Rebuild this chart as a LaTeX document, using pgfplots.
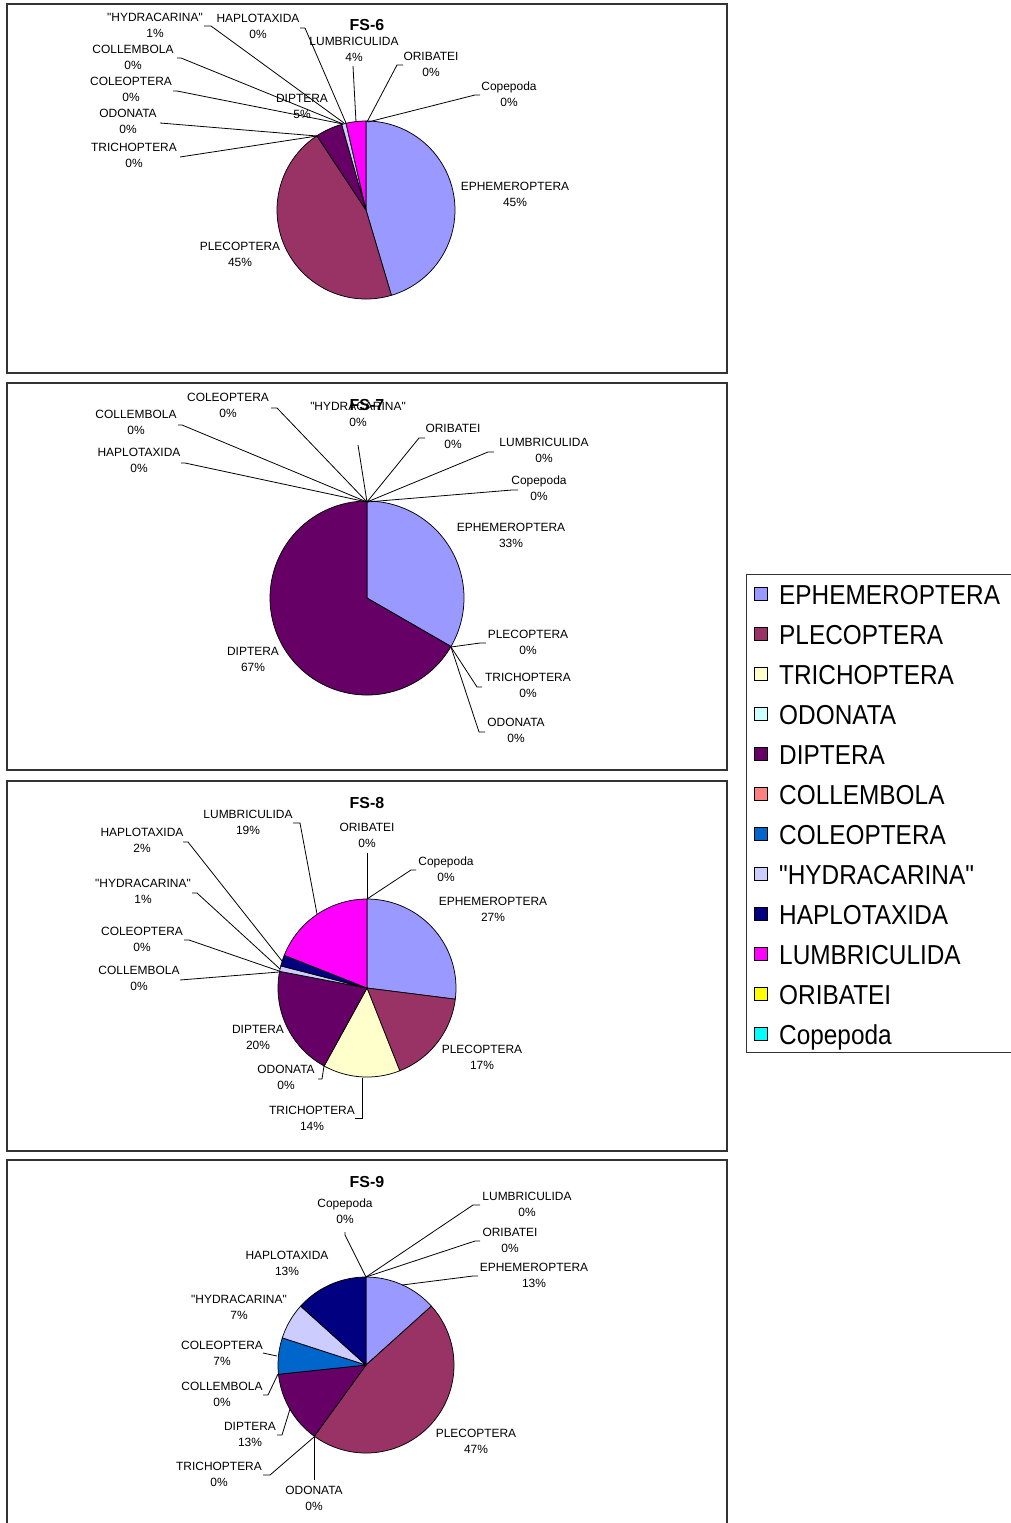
\documentclass[border=0pt]{standalone}
\usepackage{fontspec}
\setmainfont{Liberation Sans}[Ligatures=TeXOff]
\usepackage{pgfplots}
\pgfplotsset{compat=1.18}
\definecolor{ephem}{HTML}{9999FF}
\definecolor{pleco}{HTML}{993366}
\definecolor{trich}{HTML}{FFFFCC}
\definecolor{odon}{HTML}{CCFFFF}
\definecolor{dipt}{HTML}{660066}
\definecolor{coll}{HTML}{FF8080}
\definecolor{coleo}{HTML}{0066CC}
\definecolor{hydr}{HTML}{CCCCFF}
\definecolor{hapl}{HTML}{000080}
\definecolor{lumb}{HTML}{FF00FF}
\definecolor{orib}{HTML}{FFFF00}
\definecolor{cope}{HTML}{00FFFF}
\tikzset{lbl/.style={font=\fontsize{12}{14}\selectfont, inner sep=0pt, anchor=base},
  ttl/.style={font=\fontsize{16}{18}\selectfont\bfseries, inner sep=0pt, anchor=base},
  lead/.style={black, line width=0.8pt},
  lgd/.style={font=\fontsize{27.5}{29}\selectfont, inner sep=0pt, anchor=base west}}
% pie: #1 cx, #2 cy, #3 r, #4 list value/colour (clockwise from 12 o'clock)
\newcommand{\pie}[4]{%
  \gdef\cumul{0}%
  \foreach \v/\c in {#4} {%
    \ifdim\v pt>0pt
      \pgfmathsetmacro\sa{\cumul*3.6}%
      \pgfmathsetmacro\ea{(\cumul+\v)*3.6}%
      \pgfmathtruncatemacro\ns{max(4,\v*1.5+3)}%
      \edef\temp{\noexpand\addplot[fill=\c, draw=black, line width=0.75pt, line join=round, domain=\sa:\ea, samples=\ns, forget plot] ({#1+#3*sin(x)},{#2-#3*cos(x)}) -- (axis cs:#1,#2) -- cycle;}%
      \temp
      \pgfmathsetmacro\newcum{\cumul+\v}%
      \xdef\cumul{\newcum}%
    \fi
  }%
}
\newcommand{\lab}[4]{\node[lbl] at (#1,#2+4.3) {#3}; \node[lbl] at (#1,#2+20.3) {#4};}
\newcommand{\ttl}[3]{\node[ttl] at (#1,#2+5.8) {#3};}
\begin{document}
\begin{tikzpicture}[x=1bp,y=-1bp]
\path[use as bounding box] (0,0) rectangle (1010,1523);
\begin{axis}[at={(0,0)}, anchor=north west, width=1010bp, height=1523bp, scale only axis,
  xmin=0, xmax=1010, ymin=0, ymax=1523, y dir=reverse, axis lines=none, clip=false]
% FS-6
\pie{366}{210}{89}{45.4/ephem, 45.3/pleco, 0/trich, 0/odon, 4.9/dipt, 0/coll, 0/coleo, 0.8/hydr, 0/hapl, 3.6/lumb, 0/orib, 0/cope}
% FS-7
\pie{367}{598}{97}{33.33/ephem, 0/pleco, 0/trich, 0/odon, 66.67/dipt, 0/coll, 0/coleo, 0/hydr, 0/hapl, 0/lumb, 0/orib, 0/cope}
% FS-8
\pie{367}{988}{89}{27/ephem, 17/pleco, 14/trich, 0/odon, 20/dipt, 0/coll, 0/coleo, 1/hydr, 2/hapl, 19/lumb, 0/orib, 0/cope}
% FS-9
\pie{366}{1365}{88}{13.33/ephem, 46.67/pleco, 0/trich, 0/odon, 13.33/dipt, 0/coll, 6.67/coleo, 6.67/hydr, 13.33/hapl, 0/lumb, 0/orib, 0/cope}
\end{axis}
% chart frames
\draw[line width=1.2pt, black!80] (7,4) rectangle (727,373);
\draw[line width=1.2pt, black!80] (7,383) rectangle (727,770);
\draw[line width=1.2pt, black!80] (7,781) rectangle (727,1151);
\draw[line width=1.2pt, black!80] (7,1160) rectangle (727,1540);
% ---- FS-6 labels
\ttl{367}{25}{FS-6}
\lab{155}{17}{"HYDRACARINA"}{1\%}
\lab{258}{18}{HAPLOTAXIDA}{0\%}
\lab{354}{41}{LUMBRICULIDA}{4\%}
\lab{431}{56}{ORIBATEI}{0\%}
\lab{509}{86}{Copepoda}{0\%}
\lab{133}{49}{COLLEMBOLA}{0\%}
\lab{131}{81}{COLEOPTERA}{0\%}
\lab{302}{98}{DIPTERA}{5\%}
\lab{128}{113}{ODONATA}{0\%}
\lab{134}{147}{TRICHOPTERA}{0\%}
\lab{515}{186}{EPHEMEROPTERA}{45\%}
\lab{240}{246}{PLECOPTERA}{45\%}
\draw[lead] (204,26)--(211,26)--(344,123);
\draw[lead] (300,28)--(305,28)--(346,123);
\draw[lead] (353,66)--(356,122);
\draw[lead] (403,65)--(397,65)--(367,122);
\draw[lead] (480,95)--(475,95)--(368,122);
\draw[lead] (177,58)--(181,58)--(343,124);
\draw[lead] (173,91)--(177,91)--(343,124);
\draw[lead] (160,123)--(317,136);
\draw[lead] (180,157)--(317,136);
% ---- FS-7 labels
\lab{228}{397}{COLEOPTERA}{0\%}
\lab{136}{414}{COLLEMBOLA}{0\%}
\lab{139}{452}{HAPLOTAXIDA}{0\%}
\lab{358}{406}{"HYDRACARINA"}{0\%}
\ttl{367}{405}{FS-7}
\lab{453}{428}{ORIBATEI}{0\%}
\lab{544}{442}{LUMBRICULIDA}{0\%}
\lab{539}{480}{Copepoda}{0\%}
\lab{511}{527}{EPHEMEROPTERA}{33\%}
\lab{253}{651}{DIPTERA}{67\%}
\lab{528}{634}{PLECOPTERA}{0\%}
\lab{528}{677}{TRICHOPTERA}{0\%}
\lab{516}{722}{ODONATA}{0\%}
\draw[lead] (271,408)--(277,408)--(367,502);
\draw[lead] (178,425)--(182,425)--(367,502);
\draw[lead] (181,463)--(185,463)--(367,502);
\draw[lead] (358,445)--(367,502);
\draw[lead] (425,438)--(419,438)--(367,502);
\draw[lead] (494,452)--(488,452)--(367,502);
\draw[lead] (518,490)--(512,490)--(367,502);
\draw[lead] (486,643)--(480,643)--(451,647);
\draw[lead] (482,687)--(477,687)--(451,647);
\draw[lead] (485,732)--(479,732)--(451,647);
% ---- FS-8 labels
\ttl{367}{803}{FS-8}
\lab{248}{814}{LUMBRICULIDA}{19\%}
\lab{142}{832}{HAPLOTAXIDA}{2\%}
\lab{143}{883}{"HYDRACARINA"}{1\%}
\lab{142}{931}{COLEOPTERA}{0\%}
\lab{139}{970}{COLLEMBOLA}{0\%}
\lab{367}{827}{ORIBATEI}{0\%}
\lab{446}{861}{Copepoda}{0\%}
\lab{493}{901}{EPHEMEROPTERA}{27\%}
\lab{482}{1049}{PLECOPTERA}{17\%}
\lab{258}{1029}{DIPTERA}{20\%}
\lab{286}{1069}{ODONATA}{0\%}
\lab{312}{1110}{TRICHOPTERA}{14\%}
\draw[lead] (293,823)--(300,823)--(317,914);
\draw[lead] (183,842)--(188,842)--(282,961);
\draw[lead] (192,893)--(197,893)--(280,969);
\draw[lead] (184,940)--(189,940)--(279,971);
\draw[lead] (180,980)--(279,972);
\draw[lead] (367,853)--(367,899);
\draw[lead] (416,870)--(411,870)--(367,899);
\draw[lead] (318,1079)--(322,1079)--(324,1066);
\draw[lead] (355,1118)--(362,1118)--(362,1078);
% ---- FS-9 labels
\ttl{367}{1182}{FS-9}
\lab{345}{1203}{Copepoda}{0\%}
\lab{527}{1196}{LUMBRICULIDA}{0\%}
\lab{510}{1232}{ORIBATEI}{0\%}
\lab{534}{1267}{EPHEMEROPTERA}{13\%}
\lab{287}{1255}{HAPLOTAXIDA}{13\%}
\lab{239}{1299}{"HYDRACARINA"}{7\%}
\lab{222}{1345}{COLEOPTERA}{7\%}
\lab{222}{1386}{COLLEMBOLA}{0\%}
\lab{250}{1426}{DIPTERA}{13\%}
\lab{219}{1466}{TRICHOPTERA}{0\%}
\lab{314}{1490}{ODONATA}{0\%}
\lab{476}{1433}{PLECOPTERA}{47\%}
\draw[lead] (345,1232)--(345,1235)--(366,1277);
\draw[lead] (480,1205)--(473,1205)--(366,1277);
\draw[lead] (480,1241)--(475,1241)--(366,1277);
\draw[lead] (478,1276)--(473,1276)--(402,1285);
\draw[lead] (263,1353)--(277,1356);
\draw[lead] (263,1395)--(268,1395)--(278,1374);
\draw[lead] (277,1435)--(282,1435)--(290,1409);
\draw[lead] (263,1475)--(270,1475)--(314,1437);
\draw[lead] (314,1437)--(314,1480);
% ---- legend
\draw[line width=1pt, black!80] (746,574) rectangle (1040,1052);
\foreach \yy/\cc/\tt in {594/ephem/EPHEMEROPTERA, 634/pleco/PLECOPTERA, 674/trich/TRICHOPTERA,
  714/odon/ODONATA, 754/dipt/DIPTERA, 794/coll/COLLEMBOLA, 834/coleo/COLEOPTERA,
  874/hydr/"HYDRACARINA", 914/hapl/HAPLOTAXIDA, 954/lumb/LUMBRICULIDA, 994/orib/ORIBATEI, 1034/cope/Copepoda} {
  \draw[fill=\cc, line width=0.9pt] (754,\yy-6.5) rectangle (767,\yy+6.5);
  \node[lgd] at (779,\yy+10) {\scalebox{0.89}[1]{\tt}};
}
\end{tikzpicture}
\end{document}
